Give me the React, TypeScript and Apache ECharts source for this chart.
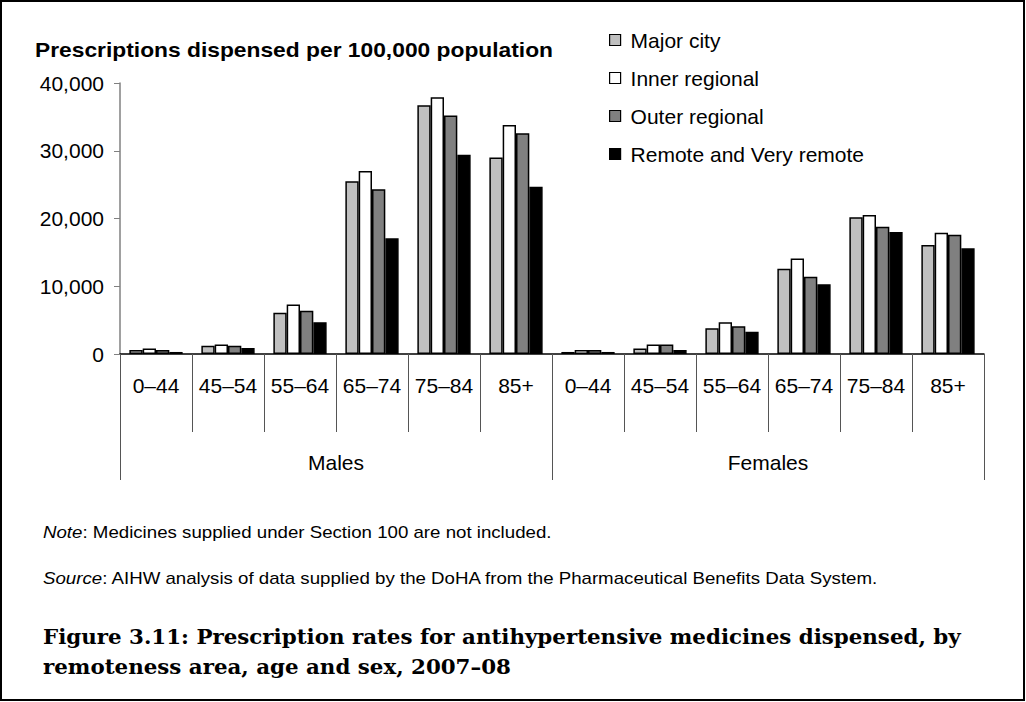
import React, { useEffect, useRef } from "react";
import * as echarts from "echarts";

const ageGroups = ["0–44", "45–54", "55–64", "65–74", "75–84", "85+"];
const sexes = ["Males", "Females"];
const seriesNames = ["Major city", "Inner regional", "Outer regional", "Remote and Very remote"];
const seriesColors = ["#c0c0c0", "#ffffff", "#808080", "#000000"];

const malesMajor = [600, 1200, 6100, 25500, 36700, 29000];
const malesInner = [800, 1400, 7300, 27000, 37900, 33800];
const malesOuter = [600, 1200, 6400, 24300, 35200, 32600];
const malesRemote = [300, 900, 4700, 17100, 29400, 24700];

const femalesMajor = [300, 800, 3800, 12600, 20200, 16100];
const femalesInner = [600, 1400, 4700, 14100, 20500, 17900];
const femalesOuter = [600, 1400, 4100, 11400, 18800, 17600];
const femalesRemote = [300, 600, 3300, 10300, 18000, 15600];

const yTicks = [0, 10000, 20000, 30000, 40000];

const yTitle = "Prescriptions dispensed per 100,000 population";
const noteText = "Medicines supplied under Section 100 are not included.";
const sourceText = "AIHW analysis of data supplied by the DoHA from the Pharmaceutical Benefits Data System.";
const captionLine1 = "Figure 3.11: Prescription rates for antihypertensive medicines dispensed, by";
const captionLine2 = "remoteness area, age and sex, 2007–08";

const SANS = "'Liberation Sans', Arial, sans-serif";
const SERIF = "'DejaVu Serif', 'Liberation Serif', serif";

export default function App() {
  const ref = useRef<HTMLDivElement>(null);

  useEffect(() => {
    if (!ref.current) return;
    const chart = echarts.init(ref.current, undefined, { renderer: "svg" });

    const categories: string[] = [];
    sexes.forEach((s) => ageGroups.forEach((a) => categories.push(s + "|" + a)));

    const seriesData = [
      malesMajor.concat(femalesMajor),
      malesInner.concat(femalesInner),
      malesOuter.concat(femalesOuter),
      malesRemote.concat(femalesRemote),
    ];

    const option: any = {
      animation: false,
      backgroundColor: "#ffffff",
      textStyle: { fontFamily: SANS, color: "#000" },
      grid: { left: 120, right: 42, top: 83, bottom: 348, containLabel: false },
      legend: {
        orient: "vertical",
        left: 604,
        top: 24,
        itemWidth: 11,
        itemHeight: 11,
        itemGap: 16,
        icon: "rect",
        selectedMode: false,
        itemStyle: { borderColor: "#000", borderWidth: 1.2 },
        textStyle: { fontFamily: SANS, fontSize: 21, color: "#000", padding: [0, 0, 0, 5], lineHeight: 22 },
        data: seriesNames,
      },
      xAxis: [
        {
          type: "category",
          data: categories,
          position: "bottom",
          axisLine: { show: true, lineStyle: { color: "#000", width: 1.5 } },
          axisTick: { show: true, interval: 0, length: 78, lineStyle: { color: "#555", width: 1 } },
          axisLabel: {
            interval: 0,
            margin: 21,
            fontSize: 21,
            fontFamily: SANS,
            color: "#000",
            formatter: (v: string) => v.split("|")[1],
          },
          splitLine: { show: false },
        },
        {
          type: "category",
          data: sexes,
          position: "bottom",
          axisLine: { show: false },
          axisTick: { show: true, interval: 0, length: 126, lineStyle: { color: "#555", width: 1 } },
          axisLabel: { interval: 0, margin: 98, fontSize: 21, fontFamily: SANS, color: "#000" },
          splitLine: { show: false },
        },
      ],
      yAxis: {
        type: "value",
        min: 0,
        max: yTicks[yTicks.length - 1],
        interval: yTicks[1] - yTicks[0],
        axisLine: { show: true, lineStyle: { color: "#808080", width: 1.5 } },
        axisTick: { show: true, length: 6, lineStyle: { color: "#808080" } },
        splitLine: { show: false },
        axisLabel: {
          margin: 16,
          fontSize: 21,
          fontFamily: SANS,
          color: "#000",
          formatter: (v: number) => v.toLocaleString("en-US"),
        },
      },
      series: seriesNames.map((name, i) => ({
        name,
        type: "bar",
        xAxisIndex: 0,
        data: seriesData[i],
        barGap: "0%",
        barCategoryGap: "26%",
        itemStyle: { color: seriesColors[i], borderColor: "#000", borderWidth: 1.5 },
        emphasis: { disabled: true },
      })),
      graphic: [
        {
          type: "rect",
          shape: { x: 1, y: 1, width: 1023, height: 699 },
          style: { fill: "none", stroke: "#000", lineWidth: 2 },
          silent: true,
        },
        {
          type: "text",
          x: 35,
          y: 50,
          scaleX: 1.14,
          style: {
            text: yTitle,
            font: "bold 20px " + SANS,
            fill: "#000",
            verticalAlign: "middle",
          },
        },
        {
          type: "text",
          x: 43,
          y: 532,
          scaleX: 1.168,
          style: {
            text: "{i|Note}: " + noteText,
            font: "16px " + SANS,
            fill: "#000",
            verticalAlign: "middle",
            rich: { i: { fontStyle: "italic", fontSize: 16, fontFamily: SANS } },
          },
        },
        {
          type: "text",
          x: 43,
          y: 578,
          scaleX: 1.168,
          style: {
            text: "{i|Source}: " + sourceText,
            font: "16px " + SANS,
            fill: "#000",
            verticalAlign: "middle",
            rich: { i: { fontStyle: "italic", fontSize: 16, fontFamily: SANS } },
          },
        },
        {
          type: "text",
          x: 43,
          y: 637,
          scaleX: 1.069,
          style: {
            text: captionLine1,
            font: "bold 20px " + SERIF,
            fill: "#000",
            verticalAlign: "middle",
          },
        },
        {
          type: "text",
          x: 43,
          y: 667,
          scaleX: 1.069,
          style: {
            text: captionLine2,
            font: "bold 20px " + SERIF,
            fill: "#000",
            verticalAlign: "middle",
          },
        },
      ],
    };

    chart.setOption(option);
    return () => chart.dispose();
  }, []);

  return (
    <div
      ref={ref}
      style={{ position: "fixed", left: 0, top: 0, width: 1026, height: 702, background: "#fff" }}
    />
  );
}
